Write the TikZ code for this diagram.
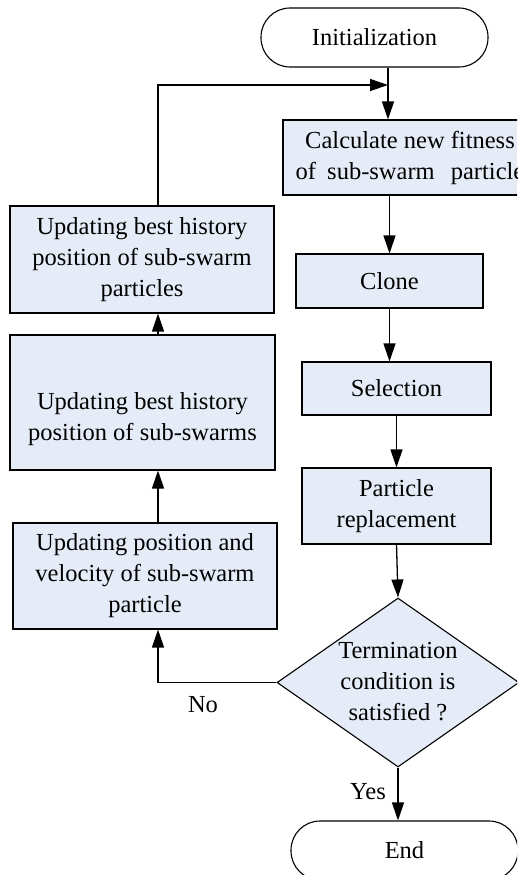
\documentclass[tikz,border=0pt]{standalone}
\usepackage{fontspec}
\setmainfont{Liberation Serif}
\usetikzlibrary{arrows.meta,shapes.geometric,calc}
\definecolor{boxfill}{RGB}{230,236,247}
\begin{document}
\begin{tikzpicture}[x=1pt,y=-1pt,
 every node/.style={font=\fontsize{24.5}{31}\selectfont},
 box/.style={draw=black,line width=1.1pt,fill=boxfill,align=center,inner sep=0pt},
 term/.style={draw=black,line width=1.1pt,rounded corners=29pt,inner sep=0pt,minimum width=227pt,minimum height=59pt},
 arr/.style={draw=black,line width=1.3pt,-{Triangle[length=18pt,width=12pt]}},
 lbl/.style={inner sep=0pt,align=center}]
\useasboundingbox (0,0) rectangle (517,875);
\clip (0,0) rectangle (517,875);

\node[term] (init) at (374.5,37.5) {Initialization};
\node[box,minimum width=254pt,minimum height=75pt] (calc) at (410,157.5) {Calculate new fitness\\of\hspace{5pt} sub-swarm\hspace{10pt} particle};
\node[box,minimum width=187pt,minimum height=54pt] (clone) at (389.5,281) {Clone};
\node[box,minimum width=189pt,minimum height=53pt] (sel) at (396.5,388.5) {Selection};
\node[box,minimum width=189pt,minimum height=76pt] (rep) at (396.5,506) {Particle\\replacement};
\node[diamond,draw=black,line width=1.1pt,fill=boxfill,minimum width=242pt,minimum height=169pt,inner sep=0pt] (dia) at (398,682.5) {};
\node[lbl] (diatext) at (398,682) {Termination\\condition is\\satisfied ?};
\node[term] (end) at (404.5,850.5) {End};

\node[box,minimum width=264pt,minimum height=107pt] (upd1) at (142,259.5) {Updating best history\\position of sub-swarm\\particles};
\node[box,minimum width=265pt,minimum height=135pt] (upd2) at (142.5,402.5) {};
\node[lbl] (upd2text) at (142.5,419) {Updating best history\\position of sub-swarms};
\node[box,minimum width=264pt,minimum height=106pt] (upd3) at (145,576) {Updating position and\\velocity of sub-swarm\\particle};

\coordinate (colx) at (158,0);
\coordinate (merge) at (388,85);

\draw[arr] (init.south -| merge) -- (calc.north -| merge);
\draw[arr] (upd1.north -| colx) |- (merge);
\draw[arr] (calc.south -| clone.north) -- (clone.north);
\draw[arr] (clone.south) -- (clone.south |- sel.north);
\draw[arr] (sel.south) -- (rep.north);
\draw[arr] (rep.south) -- (dia.north);
\draw[arr] (dia.south) -- (dia.south |- end.north);
\draw[arr] (dia.west) -| (upd3.south -| colx);
\draw[arr] (upd3.north -| colx) -- (upd2.south -| colx);
\draw[arr] (upd2.north -| colx) -- (upd1.south -| colx);

\node[lbl] (nolbl) at (203,705) {No};
\node[lbl] (yeslbl) at (368,792) {Yes};
\end{tikzpicture}
\end{document}
